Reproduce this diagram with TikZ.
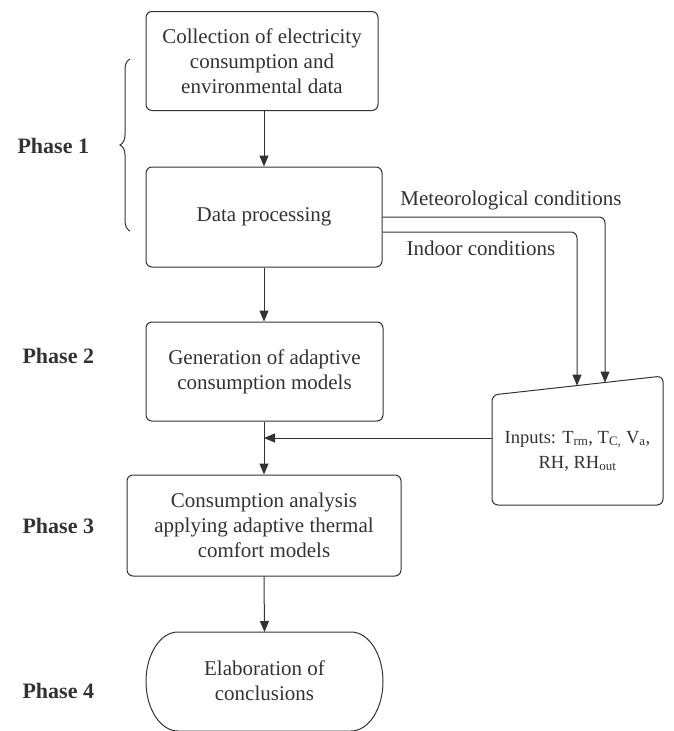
\documentclass[tikz,border=0pt]{standalone}
\usepackage{fontspec}
\setmainfont{Liberation Serif}
\usetikzlibrary{arrows.meta,decorations.pathreplacing,calc}
\definecolor{ink}{RGB}{50,50,50}
\begin{document}
\begin{tikzpicture}[x=1pt,y=-1pt,
  every node/.style={text=ink, font=\fontsize{21}{25}\selectfont},
  box/.style={draw=ink, line width=1pt, rounded corners=6pt, align=center, inner sep=0pt},
  arr/.style={draw=ink, line width=1pt, -{Triangle[length=11pt,width=9pt]}},
  ln/.style={draw=ink, line width=1pt},
  phase/.style={font=\fontsize{22}{24}\selectfont\bfseries, anchor=west}]
\useasboundingbox (0,0) rectangle (673,731);
\coordinate (col) at (264,0);
\node[box, minimum width=232pt, minimum height=99pt] (b1) at (262,61)
  {Collection of electricity\\consumption and\\environmental data};
\node[box, minimum width=236pt, minimum height=100pt] (b2) at (264,217) {Data processing};
\node[box, minimum width=237pt, minimum height=99pt] (b3) at (264.5,371.5)
  {Generation of adaptive\\consumption models};
\node[box, minimum width=274pt, minimum height=101pt] (b4) at (264,525.5)
  {Consumption analysis\\applying adaptive thermal\\comfort models};
% terminal
\node[align=center] (b5) at (264.5,681) {Elaboration of\\conclusions};
\draw[ln] (178,632) -- (351,632) arc[start angle=-90, end angle=90, x radius=32, y radius=49.5]
  -- (178,731) arc[start angle=90, end angle=270, x radius=32, y radius=49.5] -- cycle;
\coordinate (b5n) at (264.5,632);
% inputs box
\draw[ln, rounded corners=6pt] (492,395) -- (663,376) -- (663,505) -- (492,505) -- cycle;
\node[align=center, font=\fontsize{18.5}{25}\selectfont] (inp) at (577.5,451) {Inputs: T\textsubscript{rm}, T\textsubscript{C,} V\textsubscript{a},\\RH, RH\textsubscript{out}};
\coordinate (inpW) at (492,438);
\coordinate (metT) at (605,382.5);
\coordinate (indT) at (577,385.6);
\coordinate (junc) at (264,438);
% arrows
\draw[arr] (b1.south -| col) -- (b2.north -| col);
\draw[arr] (b2.south -| col) -- (b3.north -| col);
\draw[arr] (b3.south -| col) -- (b4.north -| col);
\draw[arr] (b4.south -| col) -- (b5n);
\draw[arr] (inpW) -- (junc);
\draw[arr, rounded corners=6pt] (b2.east |- 0,217) -- (605,217) -- (metT);
\draw[arr, rounded corners=6pt] (b2.east |- 0,232) -- (577,232) -- (indT);
\node (met) at (511,200) {Meteorological conditions};
\node (ind) at (481,248) {Indoor conditions};
% phases
\node[phase] (p1) at (14,146) {Phase 1};
\node[phase] (p2) at (19,356) {Phase 2};
\node[phase] (p3) at (19,526) {Phase 3};
\node[phase] (p4) at (19,691) {Phase 4};
\draw[ln, decorate, decoration={brace, amplitude=10pt, aspect=0.5}] (130,231) -- (130,59);
\end{tikzpicture}
\end{document}
